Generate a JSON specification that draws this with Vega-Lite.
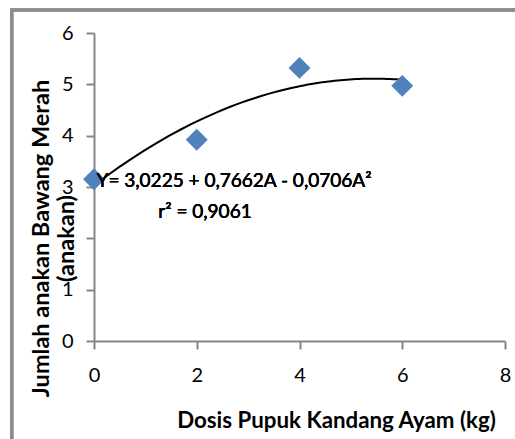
{
  "$schema": "https://vega.github.io/schema/vega-lite/v6.json",
  "width": 411,
  "height": 308,
  "autosize": {"type": "none"},
  "padding": {"left": 94, "top": 33, "right": 10, "bottom": 98},
  "background": "white",
  "config": {
    "view": {"stroke": null},
    "axis": {
      "grid": false,
      "domainColor": "#868686",
      "domainWidth": 2,
      "tickColor": "#868686",
      "tickWidth": 2,
      "tickSize": 8,
      "labelFont": "Lato",
      "labelFontSize": 20,
      "labelColor": "#000000",
      "labelFlush": false,
      "titleFont": "Lato",
      "titleFontWeight": "bold",
      "titleColor": "#000000"
    }
  },
  "data": {
    "values": [
      {"dosis": 0, "jumlah": 3.15},
      {"dosis": 2, "jumlah": 3.92},
      {"dosis": 4, "jumlah": 5.32},
      {"dosis": 6, "jumlah": 4.97}
    ]
  },
  "layer": [
    {
      "mark": {"type": "rect", "fill": null, "stroke": "#8c8c8c", "strokeWidth": 3, "clip": false},
      "encoding": {
        "x": {"datum": -1.6, "type": "quantitative"},
        "x2": {"datum": 8.3},
        "y": {"datum": 6.45, "type": "quantitative"},
        "y2": {"datum": -2.1}
      }
    },
    {
      "transform": [{"regression": "jumlah", "on": "dosis", "method": "poly", "order": 2}],
      "mark": {"type": "line", "color": "#000000", "strokeWidth": 2},
      "encoding": {
        "x": {"field": "dosis", "type": "quantitative"},
        "y": {"field": "jumlah", "type": "quantitative"}
      }
    },
    {
      "mark": {"type": "point", "shape": "diamond", "filled": true, "size": 480, "color": "#4f81bd", "opacity": 1},
      "encoding": {
        "x": {
          "field": "dosis", "type": "quantitative",
          "scale": {"domain": [0, 8], "nice": false},
          "axis": {"values": [0, 2, 4, 6, 8], "labelPadding": 16, "title": "Dosis Pupuk Kandang Ayam (kg)", "titleFontSize": 22.3, "titleX": 242, "titleY": 79, "titleBaseline": "middle", "titleAlign": "center"}
        },
        "y": {
          "field": "jumlah", "type": "quantitative",
          "scale": {"domain": [0, 6], "nice": false},
          "axis": {"values": [0, 1, 2, 3, 4, 5, 6], "labelPadding": 13, "labelExpr": "datum.value == 2 ? '' : datum.label", "title": ["Jumlah anakan Bawang Merah", "(anakan)"], "titleFontSize": 23.5, "titleLineHeight": 25, "titleAngle": -90, "titleX": -53, "titleY": 205, "titleBaseline": "middle", "titleAlign": "center"}
        }
      }
    },
    {
      "mark": {"type": "text", "text": "Y= 3,0225 + 0,7662A - 0,0706A²", "font": "Lato", "fontWeight": "normal", "fontSize": 19, "color": "#000000", "align": "center", "baseline": "middle"},
      "encoding": {
        "x": {"datum": 2.725, "type": "quantitative"},
        "y": {"datum": 3.12, "type": "quantitative"}
      }
    },
    {
      "mark": {"type": "text", "text": "r² = 0,9061", "font": "Lato", "fontWeight": "normal", "fontSize": 19, "color": "#000000", "align": "center", "baseline": "middle"},
      "encoding": {
        "x": {"datum": 2.16, "type": "quantitative"},
        "y": {"datum": 2.52, "type": "quantitative"}
      }
    }
  ]
}
